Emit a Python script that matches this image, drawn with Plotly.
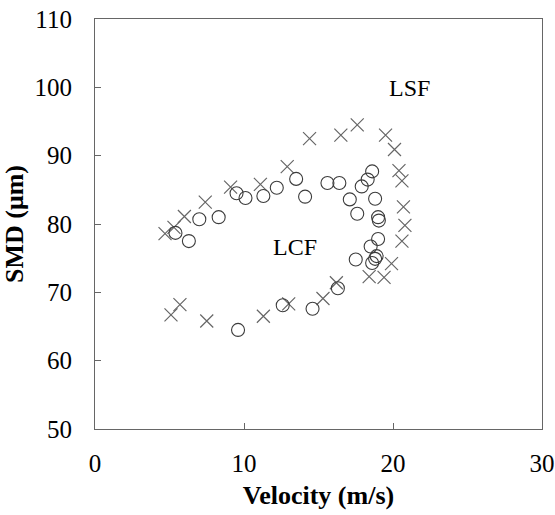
import plotly.graph_objects as go

# LSF series (crosses)
lsf_x = [4.7, 5.3, 6.0, 7.4, 9.1, 11.1, 12.9, 14.4, 16.5, 17.6, 19.5, 20.1, 20.4, 20.6,
         20.7, 20.8, 20.6, 19.9, 19.4, 18.4, 16.2, 15.3, 13.0, 11.3, 7.5, 5.7, 5.1]
lsf_y = [78.6, 79.5, 81.1, 83.2, 85.4, 85.8, 88.4, 92.5, 93.0, 94.5, 93.0, 90.9, 87.8, 86.3,
         82.5, 79.8, 77.5, 74.2, 72.2, 72.3, 71.4, 69.1, 68.3, 66.5, 65.8, 68.2, 66.7]

# LCF series (circles)
lcf_x = [5.4, 6.3, 7.0, 8.3, 9.5, 10.1, 11.3, 12.2, 13.5, 14.1, 15.6, 16.4, 17.1, 17.6,
         17.9, 18.3, 18.6, 18.8, 19.0, 19.05, 19.0, 18.5, 18.9, 18.8, 18.6, 17.5, 16.3,
         14.6, 12.6, 9.6]
lcf_y = [78.7, 77.5, 80.7, 81.0, 84.5, 83.8, 84.1, 85.3, 86.6, 84.0, 86.0, 86.0, 83.6, 81.5,
         85.5, 86.5, 87.7, 83.7, 81.0, 80.5, 77.8, 76.7, 75.3, 74.9, 74.3, 74.8, 70.6,
         67.6, 68.1, 64.5]

x_ticks = [0, 10, 20, 30]
y_ticks = [50, 60, 70, 80, 90, 100, 110]

font_family = "Liberation Serif"

fig = go.Figure()
fig.add_trace(go.Scatter(
    x=lsf_x, y=lsf_y, mode="markers", name="LSF",
    marker=dict(symbol="x-thin-open", size=13, color="#666666",
                line=dict(color="#666666", width=1.2)),
))
fig.add_trace(go.Scatter(
    x=lcf_x, y=lcf_y, mode="markers", name="LCF",
    marker=dict(symbol="circle-open", size=13, color="#3c3c3c",
                line=dict(color="#3c3c3c", width=1.1)),
))

fig.add_annotation(x=21.1, y=99.9, text="LSF", showarrow=False,
                   font=dict(family=font_family, size=24, color="#000000"))
fig.add_annotation(x=13.45, y=76.7, text="LCF", showarrow=False,
                   font=dict(family=font_family, size=24, color="#000000"))

axis_common = dict(
    showgrid=False, zeroline=False, showline=True, mirror=True,
    linecolor="#666666", linewidth=1.2, automargin=False,
    ticks="inside", ticklen=6, tickcolor="#666666", tickwidth=1.2,
    tickfont=dict(family=font_family, size=25, color="#000000"),
)

fig.update_layout(
    width=555, height=515,
    margin=dict(l=95, r=13, t=19, b=86),
    paper_bgcolor="white", plot_bgcolor="white",
    showlegend=False,
    xaxis=dict(range=[0, 30], tickvals=x_ticks, ticktext=[str(v) for v in x_ticks],
               ticklabelstandoff=12,
               title=dict(text="<b>Velocity (m/s)</b>", standoff=9,
                          font=dict(family=font_family, size=26, color="#000000")),
               **axis_common),
    yaxis=dict(range=[50, 110], tickvals=y_ticks, ticktext=[str(v) for v in y_ticks],
               ticklabelstandoff=17,
               title=dict(text="<b>SMD (μm)</b>", standoff=7,
                          font=dict(family=font_family, size=26, color="#000000")),
               **axis_common),
)

fig.write_html("out.html")
